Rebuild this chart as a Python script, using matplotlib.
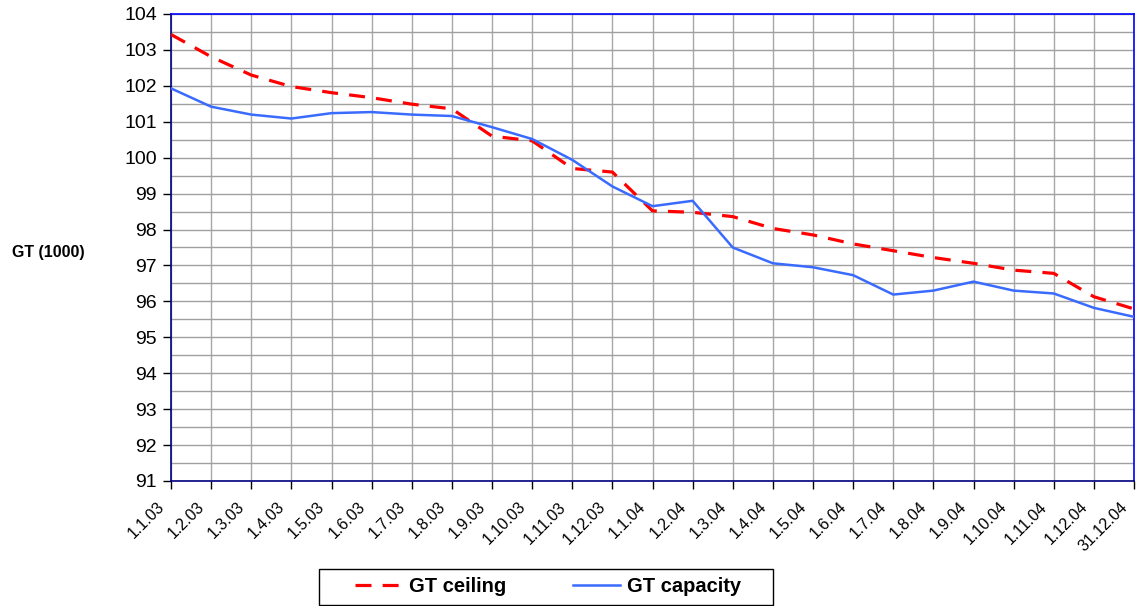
import matplotlib
matplotlib.use("Agg")
import matplotlib.pyplot as plt
import matplotlib.transforms as mtransforms
from matplotlib.patches import Rectangle
from matplotlib.ticker import MultipleLocator

plt.rcParams['font.family'] = ['Liberation Sans', 'DejaVu Sans']

dates = ["1.1.03", "1.2.03", "1.3.03", "1.4.03", "1.5.03", "1.6.03", "1.7.03", "1.8.03",
         "1.9.03", "1.10.03", "1.11.03", "1.12.03", "1.1.04", "1.2.04", "1.3.04", "1.4.04",
         "1.5.04", "1.6.04", "1.7.04", "1.8.04", "1.9.04", "1.10.04", "1.11.04", "1.12.04",
         "31.12.04"]

gt_ceiling = [103.43, 102.81, 102.30, 101.98, 101.81, 101.67, 101.49, 101.36,
              100.60, 100.47, 99.70, 99.60, 98.52, 98.48, 98.36, 98.03,
              97.85, 97.60, 97.41, 97.22, 97.06, 96.87, 96.78, 96.13, 95.79]

gt_capacity = [101.93, 101.42, 101.20, 101.09, 101.24, 101.27, 101.20, 101.16,
               100.85, 100.52, 99.94, 99.20, 98.65, 98.80, 97.50, 97.06,
               96.95, 96.73, 96.19, 96.30, 96.55, 96.30, 96.22, 95.82, 95.57]

fig = plt.figure(figsize=(11.42, 6.06), dpi=100)
ax = fig.add_axes([171/1142, 1-481/606, (1134-171)/1142, (481-14)/606])

x = list(range(len(dates)))
ax.plot(x, gt_ceiling, color="#FF0000", lw=2.3, dashes=(5, 3.5), label="GT ceiling", zorder=3)
ax.plot(x, gt_capacity, color="#3A6BFF", lw=1.8, label="GT capacity", zorder=3)

ax.set_xlim(0, len(dates)-1)
ax.set_ylim(91, 104)
ax.yaxis.set_major_locator(MultipleLocator(1))
ax.yaxis.set_minor_locator(MultipleLocator(0.5))
ax.set_xticks(x)

ax.grid(True, which="both", axis="y", color="#a0a0a0", lw=1)
ax.grid(True, which="major", axis="x", color="#a8a8a8", lw=1)
ax.set_axisbelow(True)

ax.tick_params(axis="y", which="major", direction="out", length=6, width=1, labelsize=14, pad=4)
ax.tick_params(axis="y", which="minor", length=0)
ax.tick_params(axis="x", direction="out", length=6, width=1, labelsize=11.5, pad=8)

ax.set_xticklabels(dates, rotation=45, ha="right", va="center", rotation_mode="anchor")
# nudge the slanted labels a bit left/down like the original
shift = mtransforms.ScaledTranslation(-0.09, -0.04, fig.dpi_scale_trans)
for lab in ax.get_xticklabels():
    lab.set_transform(lab.get_transform() + shift)

ax.spines["left"].set_color("#000080")
ax.spines["bottom"].set_color("#000080")
ax.spines["top"].set_color("#0000FF")
ax.spines["right"].set_color("#0000FF")
for s in ax.spines.values():
    s.set_linewidth(1.2)

fig.text(48/1142, 1-253/606, "GT (1000)", ha="center", va="center", fontsize=11.5, fontweight="bold")

# legend box at the bottom
fig.patches.append(Rectangle((319/1142, 1-605/606), 454/1142, 36/606, transform=fig.transFigure,
                             facecolor="white", edgecolor="black", lw=1))
fig.legend(loc="center", bbox_to_anchor=(548/1142, 1-587/606), ncol=2, frameon=False,
           prop={"size": 14.5, "weight": "bold"}, handlelength=2.35, handletextpad=0.35,
           columnspacing=3.3)

fig.savefig("out.png", dpi=100)
